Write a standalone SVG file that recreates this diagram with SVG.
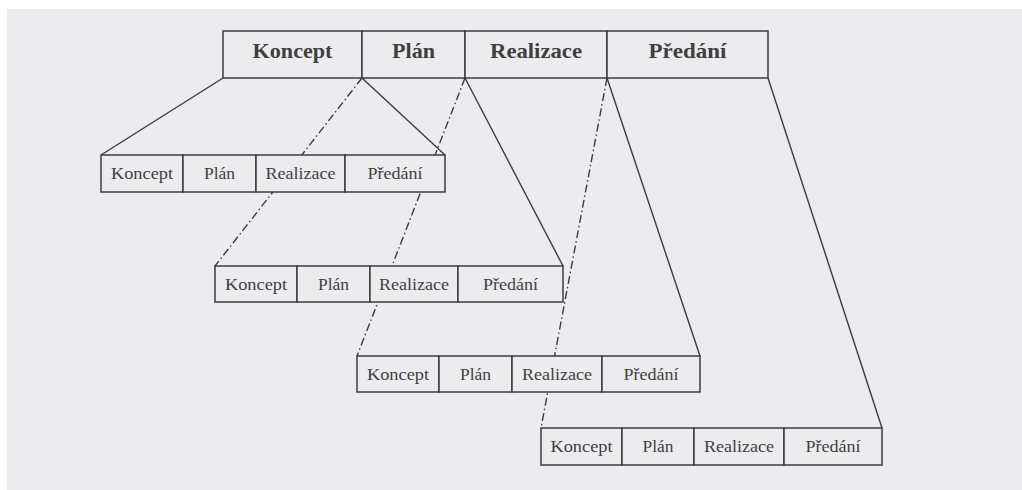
<svg xmlns="http://www.w3.org/2000/svg" width="1022" height="490" viewBox="0 0 1022 490">
<style>
.cell{fill:#ececef;stroke:#3c3c3c;stroke-width:1.5}
.sl{stroke:#3c3c3c;stroke-width:1.4;fill:none}
.dd{stroke:#3c3c3c;stroke-width:1.4;fill:none;stroke-dasharray:8 3 1.5 3}
.big{font-family:"Liberation Serif",serif;font-weight:bold;font-size:21px;fill:#3f3f3f;text-anchor:middle}
.sm{font-family:"Liberation Serif",serif;font-size:16px;fill:#3f3f3f;text-anchor:middle}
</style>
<rect x="0" y="0" width="1022" height="490" fill="#ffffff"/>
<rect x="7" y="9" width="1015" height="481" fill="#ececef"/>
<g id="connectors">
<line class="sl" x1="223" y1="78" x2="101" y2="155"/>
<line class="sl" x1="362" y1="78" x2="445" y2="155"/>
<line class="dd" x1="362" y1="78" x2="215" y2="266"/>
<line class="sl" x1="465" y1="78" x2="563" y2="266"/>
<line class="dd" x1="465" y1="78" x2="357" y2="356"/>
<line class="sl" x1="607" y1="78" x2="700" y2="356"/>
<line class="dd" x1="607" y1="78" x2="541" y2="428"/>
<line class="sl" x1="768" y1="78" x2="882" y2="428"/>
</g>
<g id="top">
<rect class="cell" x="223" y="31" width="139" height="47"/>
<rect class="cell" x="362" y="31" width="103" height="47"/>
<rect class="cell" x="465" y="31" width="142" height="47"/>
<rect class="cell" x="607" y="31" width="161" height="47"/>
<text class="big" x="292.5" y="58" textLength="80" lengthAdjust="spacingAndGlyphs">Koncept</text>
<text class="big" x="413.5" y="58" textLength="43" lengthAdjust="spacingAndGlyphs">Plán</text>
<text class="big" x="536" y="58" textLength="92" lengthAdjust="spacingAndGlyphs">Realizace</text>
<text class="big" x="687.5" y="58" textLength="78" lengthAdjust="spacingAndGlyphs">Předání</text>
</g>
<g id="row1">
<rect class="cell" x="101" y="155" width="82" height="37"/>
<rect class="cell" x="183" y="155" width="73" height="37"/>
<rect class="cell" x="256" y="155" width="89" height="37"/>
<rect class="cell" x="345" y="155" width="100" height="37"/>
<text class="sm" x="142" y="178.5" textLength="62" lengthAdjust="spacingAndGlyphs">Koncept</text>
<text class="sm" x="219.5" y="178.5" textLength="31" lengthAdjust="spacingAndGlyphs">Plán</text>
<text class="sm" x="300.5" y="178.5" textLength="70" lengthAdjust="spacingAndGlyphs">Realizace</text>
<text class="sm" x="395" y="178.5" textLength="55" lengthAdjust="spacingAndGlyphs">Předání</text>
</g>
<g id="row2">
<rect class="cell" x="215" y="266" width="82" height="36"/>
<rect class="cell" x="297" y="266" width="73" height="36"/>
<rect class="cell" x="370" y="266" width="88" height="36"/>
<rect class="cell" x="458" y="266" width="105" height="36"/>
<text class="sm" x="256" y="289.5" textLength="62" lengthAdjust="spacingAndGlyphs">Koncept</text>
<text class="sm" x="333.5" y="289.5" textLength="31" lengthAdjust="spacingAndGlyphs">Plán</text>
<text class="sm" x="414" y="289.5" textLength="70" lengthAdjust="spacingAndGlyphs">Realizace</text>
<text class="sm" x="510.5" y="289.5" textLength="55" lengthAdjust="spacingAndGlyphs">Předání</text>
</g>
<g id="row3">
<rect class="cell" x="357" y="356" width="82" height="36"/>
<rect class="cell" x="439" y="356" width="73" height="36"/>
<rect class="cell" x="512" y="356" width="90" height="36"/>
<rect class="cell" x="602" y="356" width="98" height="36"/>
<text class="sm" x="398" y="379.5" textLength="62" lengthAdjust="spacingAndGlyphs">Koncept</text>
<text class="sm" x="475.5" y="379.5" textLength="31" lengthAdjust="spacingAndGlyphs">Plán</text>
<text class="sm" x="557" y="379.5" textLength="70" lengthAdjust="spacingAndGlyphs">Realizace</text>
<text class="sm" x="651" y="379.5" textLength="55" lengthAdjust="spacingAndGlyphs">Předání</text>
</g>
<g id="row4">
<rect class="cell" x="541" y="428" width="81" height="37"/>
<rect class="cell" x="622" y="428" width="72" height="37"/>
<rect class="cell" x="694" y="428" width="90" height="37"/>
<rect class="cell" x="784" y="428" width="98" height="37"/>
<text class="sm" x="581.5" y="451.5" textLength="62" lengthAdjust="spacingAndGlyphs">Koncept</text>
<text class="sm" x="658" y="451.5" textLength="31" lengthAdjust="spacingAndGlyphs">Plán</text>
<text class="sm" x="739" y="451.5" textLength="70" lengthAdjust="spacingAndGlyphs">Realizace</text>
<text class="sm" x="833" y="451.5" textLength="55" lengthAdjust="spacingAndGlyphs">Předání</text>
</g>
</svg>
